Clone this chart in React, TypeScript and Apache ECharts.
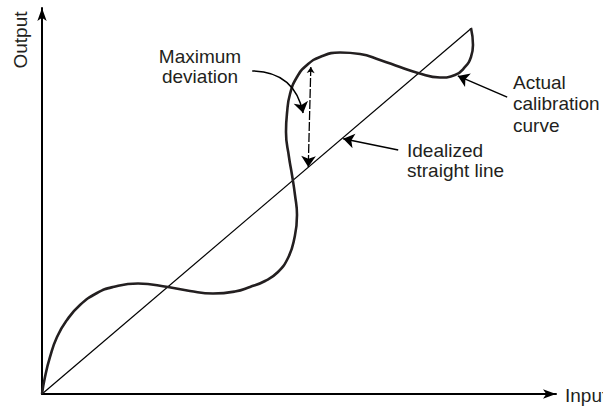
import React, { useEffect, useRef } from "react";
import * as echarts from "echarts";

// Actual calibration curve (input %, output %)
const curveX = [0, 0.58, 1.56, 2.92, 4.86, 7.39, 10.7, 13.81, 18.68, 24.51, 28.79, 33.27, 37.55, 40.47, 43.39, 45.91, 47.86, 49.03, 49.61, 49.22, 48.64, 48.05, 47.47, 47.67, 48.25, 49.61, 51.56, 54.09, 57.98, 61.87, 65.76, 69.65, 73.15, 77.43, 80.35, 82.3, 83.46, 83.85, 83.46];
const curveY = [0, 4.4, 9.59, 14.77, 19.17, 23.06, 26.17, 27.72, 28.63, 27.72, 26.68, 26.04, 26.55, 27.72, 29.27, 31.61, 35.23, 39.9, 46.37, 51.55, 56.74, 61.4, 67.88, 72.8, 77.72, 82.12, 85.23, 87.31, 88.47, 88.08, 86.53, 84.72, 83.16, 82.0, 82.64, 84.72, 87.31, 90.41, 94.82];

// Idealized straight line end points
const idealX = [0, 83.6];
const idealY = [0, 94.8];

// Annotation arrows: [fromX, fromY, toX, toY]
const deviationArrow = [52.3, 84.7, 51.8, 58.8];
const maxDevPointer = [40.9, 83.7, 50.8, 72.8];
const idealPointer = [69.3, 63.2, 58.6, 66.1];
const actualPointer = [90.5, 76.9, 80.9, 82.4];

// Texts
const axisXName = "Input";
const axisYName = "Output";
const maxDevLines = ["Maximum", "deviation"];
const actualLines = ["Actual", "calibration", "curve"];
const idealLines = ["Idealized", "straight line"];

const INK = "#231f20";
const FONT = "'Liberation Sans', Arial, sans-serif";

function seg(a: number[]) {
  return { coords: [[a[0], a[1]], [a[2], a[3]]] };
}

function textEl(str: string, x: number, y: number, align: string = "left", rotation = 0) {
  return {
    type: "text",
    x,
    y,
    rotation,
    style: {
      text: str,
      fill: INK,
      font: `19px ${FONT}`,
      textAlign: align,
      textVerticalAlign: "middle",
    },
  };
}

export default function App() {
  const ref = useRef<HTMLDivElement>(null);
  useEffect(() => {
    if (!ref.current) return;
    const chart = echarts.init(ref.current, undefined, { renderer: "svg" });
    const axisCommon = {
      type: "value",
      min: 0,
      max: 100,
      axisLine: {
        show: true,
        symbol: ["none", "arrow"],
        symbolSize: [7, 13],
        lineStyle: { color: "#000", width: 2 },
      },
      axisTick: { show: false },
      axisLabel: { show: false },
      splitLine: { show: false },
    };
    const graphics: any[] = [];
    maxDevLines.forEach((t, i) => graphics.push(textEl(t, 200, 56.4 + i * 20, "center")));
    actualLines.forEach((t, i) => graphics.push(textEl(t, 513, 82.4 + i * 21.5)));
    idealLines.forEach((t, i) => graphics.push(textEl(t, 407, 150.4 + i * 20)));
    graphics.push(textEl(axisXName, 565, 395.4));
    graphics.push(textEl(axisYName, 20.4, 40, "center", Math.PI / 2));

    chart.setOption({
      animation: false,
      grid: { left: 42, right: 47, top: 8, bottom: 12, containLabel: false },
      xAxis: axisCommon,
      yAxis: axisCommon,
      series: [
        {
          type: "line",
          name: "Idealized straight line",
          data: idealX.map((x, i) => [x, idealY[i]]),
          showSymbol: false,
          lineStyle: { color: "#000", width: 1.2 },
          z: 2,
        },
        {
          type: "line",
          name: "Actual calibration curve",
          data: curveX.map((x, i) => [x, curveY[i]]),
          showSymbol: false,
          smooth: 0.5,
          lineStyle: { color: INK, width: 2.6 },
          z: 3,
        },
        {
          type: "lines",
          coordinateSystem: "cartesian2d",
          symbol: ["arrow", "arrow"],
          symbolSize: [6, 11],
          lineStyle: { color: "#000", width: 1.3, type: [9, 2], opacity: 1 },
          data: [seg(deviationArrow)],
          z: 4,
        },
        {
          type: "lines",
          coordinateSystem: "cartesian2d",
          symbol: ["none", "arrow"],
          symbolSize: [6, 11],
          lineStyle: { color: "#000", width: 1.5, curveness: 0.4, opacity: 1 },
          data: [seg(maxDevPointer)],
          z: 4,
        },
        {
          type: "lines",
          coordinateSystem: "cartesian2d",
          symbol: ["none", "arrow"],
          symbolSize: [6, 11],
          lineStyle: { color: "#000", width: 1.5, opacity: 1 },
          data: [seg(idealPointer), seg(actualPointer)],
          z: 4,
        },
      ],
      graphic: graphics,
    });
    return () => chart.dispose();
  }, []);
  return (
    <div
      ref={ref}
      style={{ position: "fixed", left: 0, top: 0, width: 603, height: 406, background: "#fff" }}
    />
  );
}
